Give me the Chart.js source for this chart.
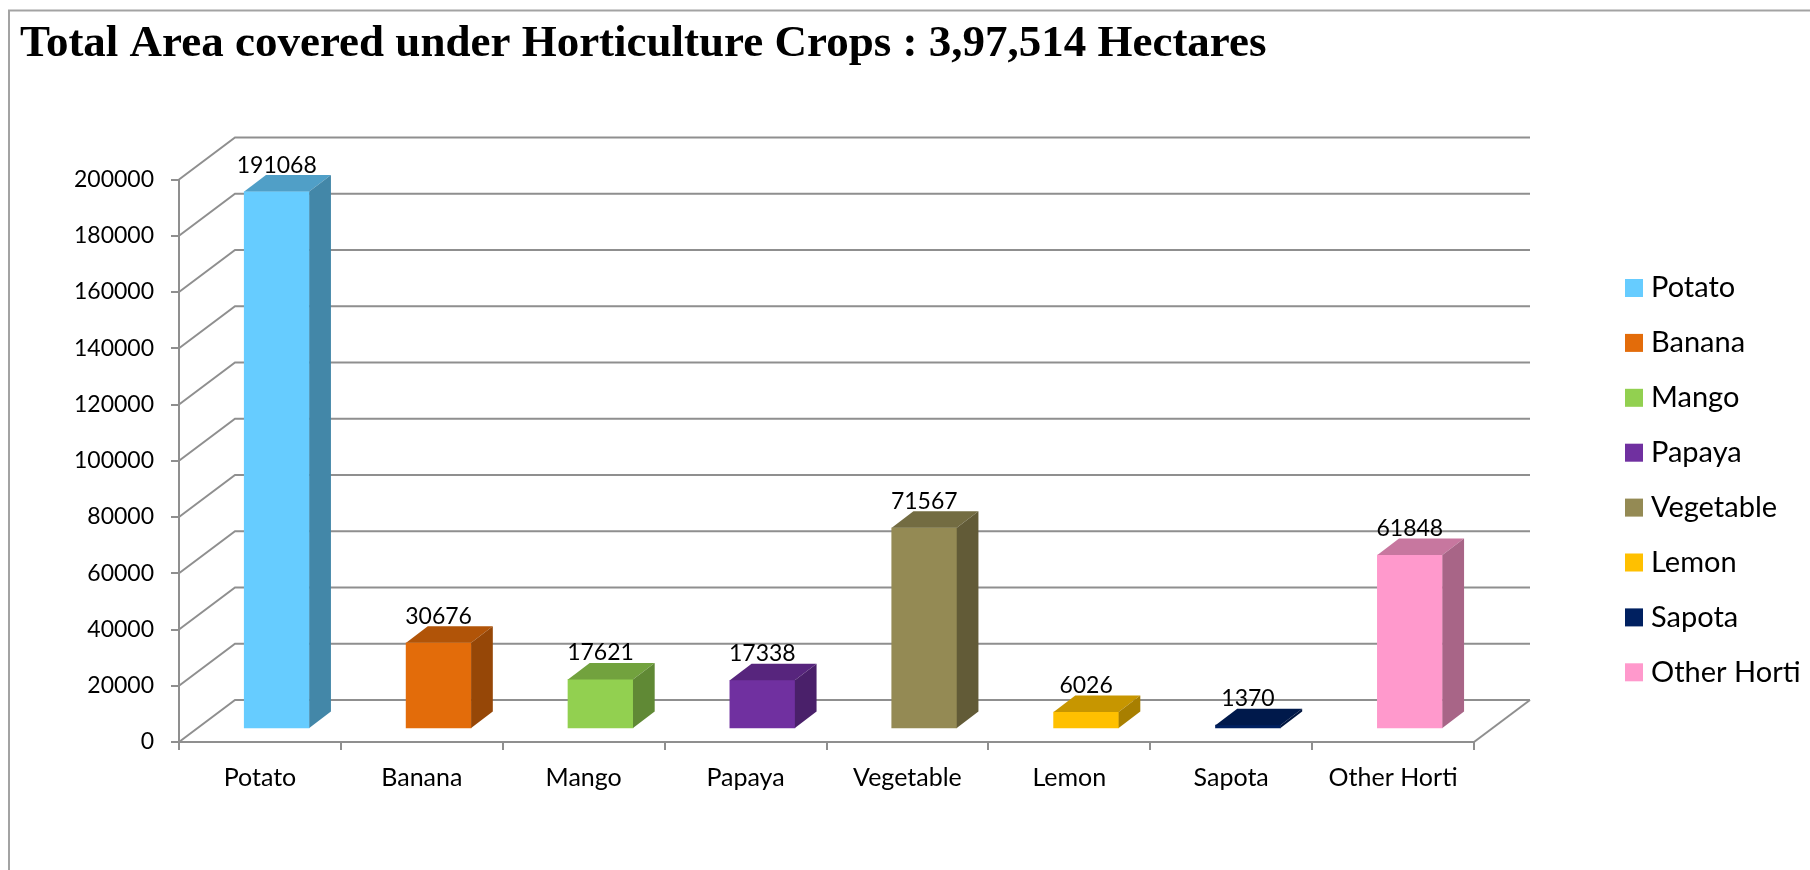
<!DOCTYPE html>
<html>
<head>
<meta charset="utf-8">
<title>Horticulture Crops</title>
<style>
    html, body { margin: 0; padding: 0; background: #ffffff; }
    canvas { display: block; }
</style>
<script src="https://cdn.jsdelivr.net/npm/chart.js@4"></script>
</head>
<body>
<canvas id="cropChart" width="1810" height="870"></canvas>
<script>
// Chart values
const crops = ['Potato', 'Banana', 'Mango', 'Papaya', 'Vegetable', 'Lemon', 'Sapota', 'Other Horti'];
const areas = [191068, 30676, 17621, 17338, 71567, 6026, 1370, 61848];
const cropColors = ['#66CCFF', '#E36C0A', '#92D050', '#7030A0', '#948A54', '#FFC000', '#002060', '#FF99CC'];
const chartTitle = 'Total Area covered under Horticulture Crops : 3,97,514 Hectares';

const LINE_GRAY = '#8f8f8f';
const TEXT_FONT = 'Lato, "Open Sans", sans-serif';

// Fake 3D depth, in pixels
const WALL_DX = 56;
const WALL_DY = 42;
const BAR_SHIFT_X = 16.8;
const BAR_SHIFT_Y = -13;
const BAR_DX = 21.7;
const BAR_DY = 16.5;

function shade(hex, factor) {
    const n = parseInt(hex.slice(1), 16);
    const r = Math.round((n >> 16 & 255) * factor);
    const g = Math.round((n >> 8 & 255) * factor);
    const b = Math.round((n & 255) * factor);
    return `rgb(${r}, ${g}, ${b})`;
}

function polygon(ctx, points, color) {
    ctx.fillStyle = color;
    ctx.beginPath();
    points.forEach(function(p, i) {
        if (i === 0) ctx.moveTo(p[0], p[1]);
        else ctx.lineTo(p[0], p[1]);
    });
    ctx.closePath();
    ctx.fill();
}

const frame3d = {
    id: 'frame3d',
    beforeDatasetsDraw(chart) {
        const ctx = chart.ctx;
        const area = chart.chartArea;
        const y = chart.scales.y;

        // Outer frame, only top and left are visible
        ctx.save();
        ctx.strokeStyle = '#a3a3a3';
        ctx.lineWidth = 2;
        ctx.beginPath();
        ctx.moveTo(9, 870);
        ctx.lineTo(9, 10.5);
        ctx.lineTo(1810, 10.5);
        ctx.stroke();

        // Back wall and side wall gridlines
        ctx.strokeStyle = LINE_GRAY;
        y.ticks.forEach(function(tick) {
            const py = y.getPixelForValue(tick.value);
            ctx.beginPath();
            ctx.moveTo(area.left, py);
            ctx.lineTo(area.left + WALL_DX, py - WALL_DY);
            ctx.lineTo(area.right + WALL_DX, py - WALL_DY);
            ctx.stroke();
        });

        // Right edge of the floor
        ctx.beginPath();
        ctx.moveTo(area.right, area.bottom);
        ctx.lineTo(area.right + WALL_DX, area.bottom - WALL_DY);
        ctx.stroke();
        ctx.restore();

        // The bars stand inside the floor, not on the front edge
        ctx.save();
        ctx.translate(BAR_SHIFT_X, BAR_SHIFT_Y);
    },
    afterDatasetsDraw(chart) {
        const ctx = chart.ctx;
        ctx.restore();

        const bars = chart.getDatasetMeta(0).data;
        bars.forEach(function(bar, i) {
            const half = bar.width / 2;
            const left = bar.x + BAR_SHIFT_X - half;
            const right = bar.x + BAR_SHIFT_X + half;
            const top = bar.y + BAR_SHIFT_Y;
            const base = bar.base + BAR_SHIFT_Y;

            polygon(ctx, [
                [left, top], [right, top],
                [right + BAR_DX, top - BAR_DY], [left + BAR_DX, top - BAR_DY]
            ], shade(cropColors[i], 0.78));
            polygon(ctx, [
                [right, top], [right + BAR_DX, top - BAR_DY],
                [right + BAR_DX, base - BAR_DY], [right, base]
            ], shade(cropColors[i], 0.66));

            // Value above the bar
            ctx.fillStyle = '#000000';
            ctx.font = '23px ' + TEXT_FONT;
            ctx.textAlign = 'center';
            ctx.textBaseline = 'middle';
            ctx.fillText(String(areas[i]), bar.x + BAR_SHIFT_X, top - BAR_DY - 10);
        });

        // Legend
        ctx.font = '29px ' + TEXT_FONT;
        ctx.textAlign = 'left';
        ctx.textBaseline = 'middle';
        crops.forEach(function(crop, i) {
            const rowY = 288 + i * 54.9;
            ctx.fillStyle = cropColors[i];
            ctx.fillRect(1625, rowY - 9, 18, 18);
            ctx.fillStyle = '#000000';
            ctx.fillText(crop, 1651, rowY);
        });
    }
};

new Chart(document.getElementById('cropChart').getContext('2d'), {
    type: 'bar',
    data: {
        labels: crops,
        datasets: [{
            data: areas,
            backgroundColor: cropColors,
            barThickness: 65,
            clip: false
        }]
    },
    options: {
        responsive: false,
        animation: false,
        layout: {
            padding: { left: 20, right: 336, top: 0, bottom: 0 }
        },
        plugins: {
            legend: { display: false },
            tooltip: { enabled: false },
            title: {
                display: true,
                text: chartTitle,
                align: 'start',
                color: '#000000',
                font: { family: '"Liberation Serif", serif', size: 45, weight: 'bold', lineHeight: 1.2 },
                padding: { top: 17, bottom: 108.5 }
            }
        },
        scales: {
            x: {
                border: { color: LINE_GRAY, width: 2 },
                grid: { offset: true, drawOnChartArea: false, color: LINE_GRAY, lineWidth: 2, tickLength: 8 },
                ticks: { color: '#000000', padding: 13, maxRotation: 0, font: { family: TEXT_FONT, size: 25 } },
                afterFit(scale) { scale.height = 128; }
            },
            y: {
                min: 0,
                max: 200000,
                border: { color: LINE_GRAY, width: 2 },
                grid: { drawOnChartArea: false, color: LINE_GRAY, lineWidth: 2, tickLength: 8 },
                ticks: {
                    color: '#000000',
                    padding: 17,
                    stepSize: 20000,
                    font: { family: TEXT_FONT, size: 23 },
                    callback: function(value) { return String(value); }
                },
                afterFit(scale) { scale.width = 159; }
            }
        }
    },
    plugins: [frame3d]
});
</script>
</body>
</html>
